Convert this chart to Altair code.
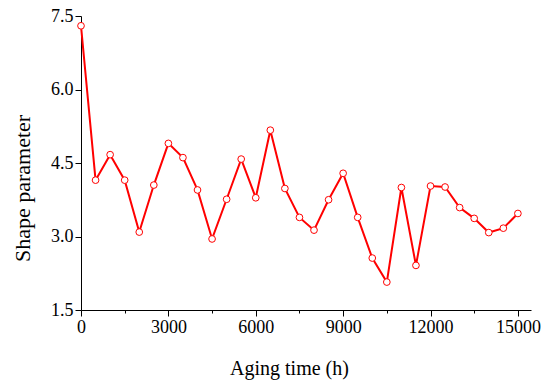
import altair as alt
import pandas as pd

aging_time = [0, 500, 1000, 1500, 2000, 2500, 3000, 3500, 4000, 4500, 5000,
              5500, 6000, 6500, 7000, 7500, 8000, 8500, 9000, 9500, 10000,
              10500, 11000, 11500, 12000, 12500, 13000, 13500, 14000, 14500, 15000]
shape_param = [7.30, 4.15, 4.67, 4.15, 3.09, 4.05, 4.90, 4.61, 3.95, 2.95, 3.76,
               4.58, 3.79, 5.17, 3.98, 3.39, 3.13, 3.75, 4.29, 3.39, 2.56,
               2.07, 4.00, 2.41, 4.03, 4.01, 3.59, 3.37, 3.08, 3.17, 3.47]
x_ticks = [0, 1500, 3000, 4500, 6000, 7500, 9000, 10500, 12000, 13500, 15000]
y_ticks = [1.5, 2.25, 3.0, 3.75, 4.5, 5.25, 6.0, 6.75, 7.5]

df = pd.DataFrame({"t": aging_time, "k": shape_param})

FONT = "Liberation Serif, DejaVu Serif, serif"

x = alt.X("t:Q", title="Aging time (h)",
          scale=alt.Scale(domain=[0, 15450], nice=False, zero=False),
          axis=alt.Axis(values=x_ticks,
                        labelExpr="datum.value % 3000 === 0 ? format(datum.value, 'd') : ''",
                        labelOverlap=False, labelFlush=False,
                        labelFont=FONT, titleFont=FONT, titleFontSize=20,
                        tickSize={"condition": {"test": "datum.value % 3000 === 0", "value": 6}, "value": 3},
                        labelPadding=2, titlePadding=22, titleX=208))
y = alt.Y("k:Q", title="Shape parameter",
          scale=alt.Scale(domain=[1.5, 7.5], nice=False, zero=False),
          axis=alt.Axis(values=y_ticks,
                        labelExpr="round(datum.value * 100) % 150 === 0 ? format(datum.value, '.1f') : ''",
                        labelOverlap=False, labelFlush=False,
                        labelFont=FONT, titleFont=FONT, titleFontSize=22,
                        tickSize={"condition": {"test": "round(datum.value * 100) % 150 === 0", "value": 6}, "value": 3},
                        labelPadding=2, titlePadding=16, titleY=172))

line = alt.Chart(df).mark_line(color="#ff0000", strokeWidth=2).encode(x=x, y=y)
pts = alt.Chart(df).mark_point(shape="circle", filled=False, fill="white",
                               fillOpacity=1, stroke="#ff0000", strokeWidth=1,
                               size=45, opacity=1).encode(x="t:Q", y="k:Q")

chart = (line + pts).properties(
    width=450, height=294,
    autosize=alt.AutoSizeParams(type="none"),
    padding={"left": 81, "top": 16, "right": 23, "bottom": 76},
    background="white",
).configure(font=FONT).configure_view(stroke=None).configure_axis(
    grid=False, domainColor="black", tickColor="black", domainWidth=1, tickWidth=1,
    labelFont=FONT, titleFont=FONT, labelFontSize=18,
    labelColor="black", titleColor="black", titleFontWeight="normal",
)

chart.save("out.html", embed_options={"renderer": "svg", "actions": False})
